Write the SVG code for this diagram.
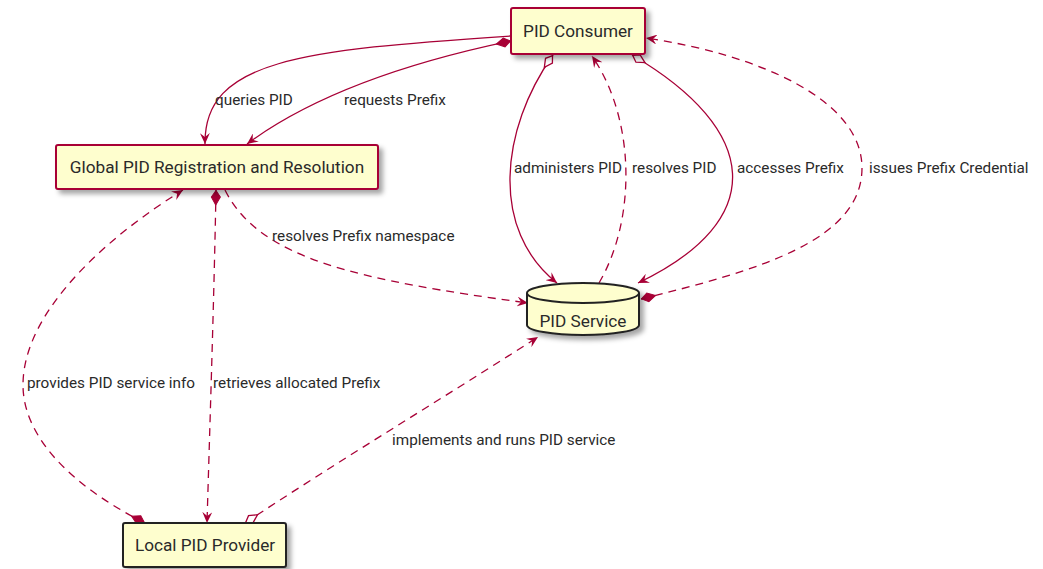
<svg xmlns="http://www.w3.org/2000/svg" width="1043" height="569" viewBox="0 0 1043 569">
<style>
.box{fill:#FEFECE;stroke:#A80036;stroke-width:2}
.boxk{fill:#FEFECE;stroke:#222;stroke-width:2}
.nt{font-family:Roboto,"Liberation Sans",sans-serif;font-size:17.2px;fill:#2a2a2a;text-anchor:middle}
.lt{font-family:Roboto,"Liberation Sans",sans-serif;font-size:15.3px;fill:#2a2a2a}
.c{fill:none;stroke:#A80036;stroke-width:1.3}
.d{stroke-dasharray:8,6}
</style>
<defs>
<filter id="sh" x="-10%" y="-10%" width="130%" height="150%">
<feDropShadow dx="4" dy="4" stdDeviation="2.5" flood-color="#000" flood-opacity="0.35"/>
</filter>
<marker id="arr" markerUnits="userSpaceOnUse" markerWidth="12" markerHeight="10" refX="11" refY="5" orient="auto" viewBox="0 0 12 10">
<path d="M0,0 L11,5 L0,10 L4,5 Z" fill="#A80036"/>
</marker>
<marker id="dia" markerUnits="userSpaceOnUse" markerWidth="16" markerHeight="12" refX="0" refY="6" orient="auto" viewBox="0 0 16 12">
<path d="M0.5,6 L7,1.5 L15,6 L7,10.5 Z" fill="#A80036" stroke="#A80036" stroke-width="1"/>
</marker>
<marker id="odia" markerUnits="userSpaceOnUse" markerWidth="16" markerHeight="12" refX="0" refY="6" orient="auto" viewBox="0 0 16 12">
<path d="M0.8,6 L7,1.8 L15,6 L7,10.2 Z" fill="#fff" stroke="#A80036" stroke-width="1.3"/>
</marker>
</defs>
<g id="connectors">
<path class="c" d="M511,36 C300,50 204,60 205,144" marker-end="url(#arr)"/>
<path class="c" d="M511,41 C420,60 320,90 247,144" marker-start="url(#dia)" marker-end="url(#arr)"/>
<path class="c" d="M553,55 C500,130 490,230 557,283" marker-start="url(#odia)" marker-end="url(#arr)"/>
<path class="c d" d="M599,283 C636,220 636,120 592,56" marker-end="url(#arr)"/>
<path class="c" d="M632,55 C760,130 770,220 638,283" marker-start="url(#odia)" marker-end="url(#arr)"/>
<path class="c d" d="M641,299 C760,270 862,240 862,168 C862,100 760,55 646,38" marker-start="url(#dia)" marker-end="url(#arr)"/>
<path class="c d" d="M225,190 C260,260 360,280 528,303" marker-end="url(#arr)"/>
<path class="c d" d="M145,523 C60,480 23,430 23,385 C23,310 110,235 183,190" marker-start="url(#dia)" marker-end="url(#arr)"/>
<path class="c d" d="M216,190 C214,300 210,420 207,523" marker-start="url(#dia)" marker-end="url(#arr)"/>
<path class="c d" d="M245,523 C340,460 440,400 538,337" marker-start="url(#odia)" marker-end="url(#arr)"/>
</g>
<g id="labels">
<text class="lt" x="215" y="105">queries PID</text>
<text class="lt" x="344" y="105">requests Prefix</text>
<text class="lt" x="514" y="173">administers PID</text>
<text class="lt" x="632" y="173">resolves PID</text>
<text class="lt" x="737" y="173">accesses Prefix</text>
<text class="lt" x="869" y="173">issues Prefix Credential</text>
<text class="lt" x="272" y="241">resolves Prefix namespace</text>
<text class="lt" x="27" y="388">provides PID service info</text>
<text class="lt" x="213" y="388">retrieves allocated Prefix</text>
<text class="lt" x="392" y="445">implements and runs PID service</text>
</g>
<g id="pid-consumer">
<rect class="box" x="511" y="8" width="134" height="46" rx="2" filter="url(#sh)"/>
<text class="nt" x="578" y="37">PID Consumer</text>
</g>
<g id="global-pid">
<rect class="box" x="56" y="145" width="322" height="44" rx="2" filter="url(#sh)"/>
<text class="nt" x="217" y="173">Global PID Registration and Resolution</text>
</g>
<g id="pid-service">
<path class="boxk" d="M527,293 A56,10 0 0 1 639,293 L639,325 A56,10 0 0 1 527,325 Z" filter="url(#sh)"/>
<path d="M527,293 A56,10 0 0 0 639,293" fill="none" stroke="#222" stroke-width="2"/>
<text class="nt" x="583" y="327">PID Service</text>
</g>
<g id="local-pid">
<rect class="boxk" x="123" y="523" width="163" height="44" rx="2" filter="url(#sh)"/>
<text class="nt" x="205" y="551">Local PID Provider</text>
</g>
</svg>
